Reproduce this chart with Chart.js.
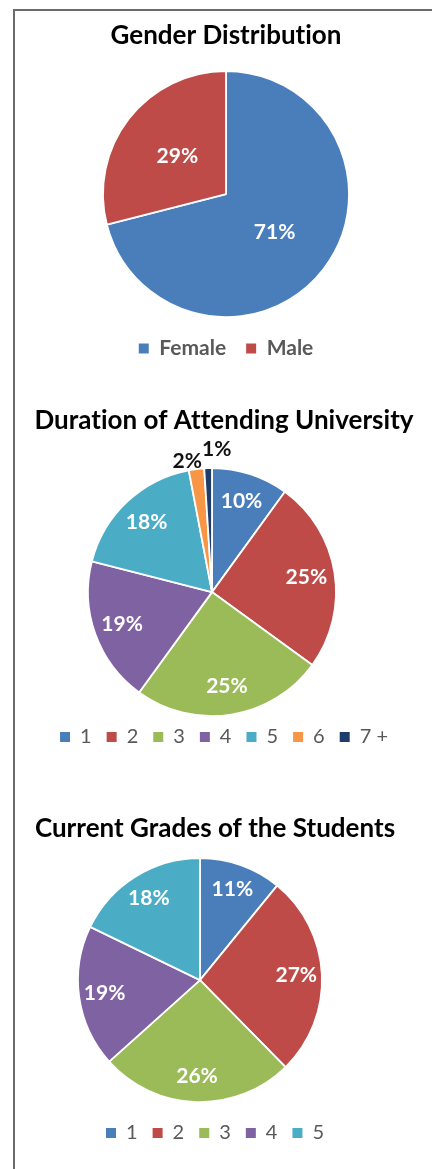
<!DOCTYPE html>
<html>
<head>
<meta charset="utf-8">
<title>Student survey</title>
<script src="https://cdn.jsdelivr.net/npm/chart.js@4.4.0/dist/chart.umd.min.js"></script>
<style>
    html, body { margin: 0; padding: 0; background: #fff; }
    #page { position: relative; width: 432px; height: 1169px; overflow: hidden; }
    #frame {
        position: absolute; left: 13px; top: 9px; width: 440px; height: 1200px;
        border-left: 2px solid #6b6b6b; border-top: 2px solid #6b6b6b;
    }
    canvas { position: absolute; left: 0; }
</style>
</head>
<body>
<div id="page">
    <div id="frame"></div>
    <canvas id="genderChart" width="432" height="369" style="top:11px"></canvas>
    <canvas id="durationChart" width="432" height="390" style="top:380px"></canvas>
    <canvas id="gradesChart" width="432" height="399" style="top:770px"></canvas>
</div>
<script>
// survey results, percent of respondents
var genderLabels = ['Female', 'Male'];
var genderValues = [71, 29];

var durationLabels = ['1', '2', '3', '4', '5', '6', '7 +'];
var durationValues = [10, 25, 25, 19, 18, 2, 1];

var gradeLabels = ['1', '2', '3', '4', '5'];
var gradeValues = [11, 27, 26, 19, 18];

var palette = ['#4a7ebb', '#be4b48', '#9bbb59', '#7f62a1', '#4bacc6', '#f79646', '#1f3d6b'];

Chart.defaults.font.family = 'Lato, "Open Sans", sans-serif';
Chart.defaults.animation = false;

// moves the pie inside the chart area without touching title/legend;
// the tiny letter spacing also keeps Lato from joining "ti" into a ligature
var shiftPlot = {
    id: 'shiftPlot',
    beforeDraw: function(chart) {
        chart.ctx.letterSpacing = '0.01px';
    },
    afterLayout: function(chart, args, opts) {
        var a = chart.chartArea;
        var dx = opts.dx || 0, dy = opts.dy || 0;
        a.left += dx; a.right += dx;
        a.top += dy; a.bottom += dy;
    }
};

// percent labels on the slices; tiny slices get their label outside
var sliceLabels = {
    id: 'sliceLabels',
    afterDatasetsDraw: function(chart, args, opts) {
        var ctx = chart.ctx;
        var meta = chart.getDatasetMeta(0);
        var values = chart.data.datasets[0].data;
        ctx.save();
        ctx.textAlign = 'center';
        ctx.textBaseline = 'middle';
        meta.data.forEach(function(arc, i) {
            var p = arc.getProps(['x', 'y', 'startAngle', 'endAngle', 'outerRadius'], true);
            var mid = (p.startAngle + p.endAngle) / 2;
            var v = values[i];
            var outside = v < (opts.minInside || 0);
            var r = outside ? p.outerRadius + (opts.outsideGap || 10) : p.outerRadius * opts.inset;
            var tx = p.x + Math.cos(mid) * r;
            var ty = p.y + Math.sin(mid) * r;
            if (outside && opts.nudge && opts.nudge[i]) {
                tx += opts.nudge[i][0];
                ty += opts.nudge[i][1];
            }
            ctx.font = 'bold ' + opts.size + 'px ' + Chart.defaults.font.family;
            ctx.fillStyle = outside ? '#111' : '#fff';
            ctx.fillText(v + '%', tx, ty);
        });
        ctx.restore();
    }
};

function legendItems(chart) {
    return Chart.overrides.pie.plugins.legend.labels.generateLabels(chart).map(function(item) {
        item.lineWidth = 0;
        return item;
    });
}

function makePie(id, title, labels, values, cfg) {
    return new Chart(document.getElementById(id), {
        type: 'pie',
        data: {
            labels: labels,
            datasets: [{
                data: values,
                backgroundColor: palette.slice(0, values.length),
                borderColor: '#ffffff',
                borderWidth: 1.8
            }]
        },
        options: {
            responsive: false,
            events: [],
            radius: cfg.radius,
            layout: { padding: cfg.padding },
            plugins: {
                title: {
                    display: true,
                    text: title,
                    color: '#000',
                    font: { size: 26, weight: 'bold' },
                    padding: { top: 0, bottom: cfg.titleGap }
                },
                legend: {
                    position: 'bottom',
                    labels: {
                        color: '#595959',
                        font: { size: cfg.legendSize, weight: cfg.legendWeight },
                        boxWidth: 10,
                        boxHeight: 10,
                        padding: cfg.legendPad,
                        generateLabels: legendItems
                    }
                },
                tooltip: { enabled: false },
                shiftPlot: { dx: cfg.dx },
                sliceLabels: cfg.labels
            }
        },
        plugins: [shiftPlot, sliceLabels]
    });
}

makePie('genderChart', 'Gender Distribution', genderLabels, genderValues, {
    radius: 123,
    padding: { top: 9, bottom: 11, left: 20, right: 0 },
    titleGap: 19,
    legendSize: 21, legendWeight: 'bold', legendPad: 20,
    dx: 0,
    labels: { inset: 0.5, size: 21 }
});

makePie('durationChart', 'Duration of Attending University', durationLabels, durationValues, {
    radius: 124,
    padding: { top: 25, bottom: 13, left: 16, right: 0 },
    titleGap: 36,
    legendSize: 20, legendWeight: 'normal', legendPad: 15,
    dx: -12,
    labels: { inset: 0.77, size: 21, minInside: 5, outsideGap: 10, nudge: { 5: [-8, 2], 6: [9, -9] } }
});

makePie('gradesChart', 'Current Grades of the Students', gradeLabels, gradeValues, {
    radius: 122,
    padding: { top: 43, bottom: 16, left: 0, right: 2 },
    titleGap: 8,
    legendSize: 20, legendWeight: 'normal', legendPad: 15,
    dx: -15,
    labels: { inset: 0.79, size: 21 }
});
</script>
</body>
</html>
